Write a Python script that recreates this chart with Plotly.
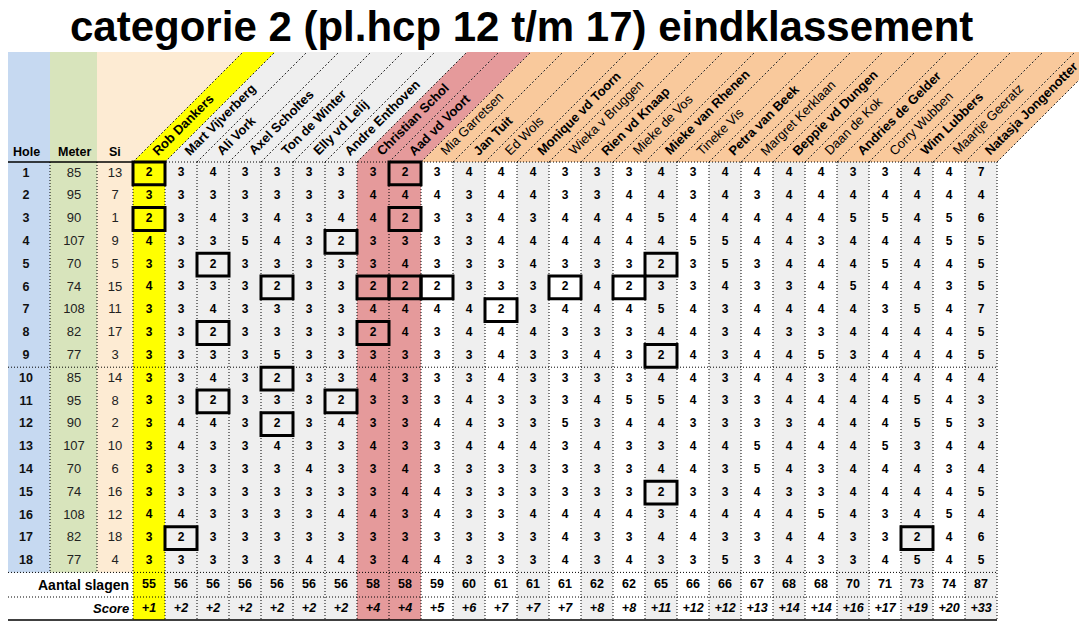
import plotly.graph_objects as go

# ---- data -------------------------------------------------------------
title = "categorie 2 (pl.hcp 12 t/m 17) eindklassement"

holes = [1, 2, 3, 4, 5, 6, 7, 8, 9, 10, 11, 12, 13, 14, 15, 16, 17, 18]
meters = [85, 95, 90, 107, 70, 74, 108, 82, 77, 85, 95, 90, 107, 70, 74, 108, 82, 77]
stroke_index = [13, 7, 1, 9, 5, 15, 11, 17, 3, 14, 8, 2, 10, 6, 16, 12, 18, 4]
par = [3, 3, 3, 3, 3, 3, 3, 3, 3, 3, 3, 3, 3, 3, 3, 3, 3, 3]

rob_dankers = [2, 3, 2, 4, 3, 4, 3, 3, 3, 3, 3, 3, 3, 3, 3, 4, 3, 3]
mart_vijverberg = [3, 3, 3, 3, 3, 3, 3, 3, 3, 3, 3, 4, 4, 3, 3, 4, 2, 3]
ali_vork = [4, 3, 4, 3, 2, 3, 4, 2, 3, 4, 2, 4, 3, 3, 3, 3, 3, 3]
axel_scholtes = [3, 3, 3, 5, 3, 3, 3, 3, 3, 3, 3, 3, 3, 3, 3, 3, 3, 3]
ton_de_winter = [3, 3, 4, 4, 3, 2, 3, 3, 5, 2, 3, 2, 4, 3, 3, 3, 3, 3]
elly_vd_lelij = [3, 3, 3, 3, 3, 3, 3, 3, 3, 3, 3, 3, 3, 4, 3, 3, 3, 4]
andre_enthoven = [3, 3, 4, 2, 3, 3, 3, 3, 3, 3, 2, 4, 3, 3, 3, 4, 3, 4]
christian_schol = [3, 4, 4, 3, 3, 2, 4, 2, 3, 4, 3, 3, 4, 3, 3, 4, 3, 3]
aad_vd_voort = [2, 4, 2, 3, 4, 2, 4, 4, 3, 3, 3, 3, 3, 4, 4, 3, 3, 4]
mia_garretsen = [3, 4, 3, 3, 3, 2, 4, 3, 3, 3, 3, 4, 3, 3, 4, 4, 3, 4]
jan_tuit = [4, 3, 3, 3, 3, 3, 4, 4, 3, 3, 4, 4, 4, 3, 3, 3, 3, 3]
ed_wols = [4, 4, 4, 4, 3, 3, 2, 4, 4, 4, 3, 3, 4, 3, 3, 3, 3, 3]
monique_vd_toorn = [4, 4, 3, 4, 4, 3, 3, 4, 3, 3, 3, 3, 4, 3, 3, 4, 3, 3]
wieka_v_bruggen = [3, 3, 4, 4, 3, 2, 4, 3, 3, 3, 3, 5, 3, 3, 3, 4, 4, 4]
rien_vd_knaap = [3, 3, 4, 4, 3, 4, 4, 3, 4, 3, 4, 3, 4, 3, 3, 4, 3, 3]
mieke_de_vos = [3, 4, 4, 4, 3, 2, 4, 3, 3, 3, 5, 4, 3, 3, 3, 4, 3, 4]
mieke_van_rhenen = [4, 4, 5, 4, 2, 3, 5, 4, 2, 4, 5, 4, 3, 4, 2, 3, 4, 3]
tineke_vis = [3, 3, 4, 5, 3, 3, 4, 4, 4, 4, 4, 3, 4, 4, 3, 4, 4, 3]
petra_van_beek = [4, 4, 4, 5, 5, 4, 3, 3, 3, 3, 3, 3, 4, 3, 3, 4, 3, 5]
margret_kerklaan = [4, 3, 4, 4, 3, 3, 4, 4, 4, 4, 3, 3, 5, 5, 4, 4, 3, 3]
beppie_vd_dungen = [4, 4, 4, 4, 4, 3, 4, 3, 4, 4, 4, 3, 4, 4, 3, 4, 4, 4]
daan_de_kok = [4, 4, 4, 3, 4, 4, 4, 3, 5, 3, 4, 4, 4, 3, 3, 5, 4, 3]
andries_de_gelder = [3, 4, 5, 4, 4, 5, 4, 4, 3, 4, 4, 4, 4, 4, 4, 4, 3, 3]
corry_wubben = [3, 4, 5, 4, 5, 4, 3, 4, 4, 4, 4, 4, 5, 4, 4, 3, 3, 4]
wim_lubbers = [4, 4, 4, 4, 4, 4, 5, 4, 4, 4, 5, 5, 3, 4, 4, 4, 2, 5]
maartje_geeratz = [4, 4, 5, 5, 4, 3, 4, 4, 4, 4, 4, 5, 4, 3, 4, 5, 4, 4]
natasja_jongenotter = [7, 4, 6, 5, 5, 5, 7, 5, 5, 4, 3, 3, 4, 4, 5, 4, 6, 5]

# (name, strokes, name in bold?)
players = [
    ("Rob Dankers", rob_dankers, True),
    ("Mart Vijverberg", mart_vijverberg, True),
    ("Ali Vork", ali_vork, True),
    ("Axel Scholtes", axel_scholtes, True),
    ("Ton de Winter", ton_de_winter, True),
    ("Elly vd Lelij", elly_vd_lelij, True),
    ("Andre Enthoven", andre_enthoven, True),
    ("Christian Schol", christian_schol, True),
    ("Aad vd Voort", aad_vd_voort, True),
    ("Mia Garretsen", mia_garretsen, False),
    ("Jan Tuit", jan_tuit, True),
    ("Ed Wols", ed_wols, False),
    ("Monique vd Toorn", monique_vd_toorn, True),
    ("Wieka v Bruggen", wieka_v_bruggen, False),
    ("Rien vd Knaap", rien_vd_knaap, True),
    ("Mieke de Vos", mieke_de_vos, False),
    ("Mieke van Rhenen", mieke_van_rhenen, True),
    ("Tineke Vis", tineke_vis, False),
    ("Petra van Beek", petra_van_beek, True),
    ("Margret Kerklaan", margret_kerklaan, False),
    ("Beppie vd Dungen", beppie_vd_dungen, True),
    ("Daan de Kok", daan_de_kok, False),
    ("Andries de Gelder", andries_de_gelder, True),
    ("Corry Wubben", corry_wubben, False),
    ("Wim Lubbers", wim_lubbers, True),
    ("Maartje Geeratz", maartje_geeratz, False),
    ("Natasja Jongenotter", natasja_jongenotter, True),
]

# ---- layout constants (pixels of the screenshot) ----------------------
# the page body keeps its 8px margin, so the figure is 8px smaller and the
# axis ranges start at 8 -> axis units equal screen pixels
PAD = 8
W, H = 1087, 622
FONT = "Liberation Sans, Arial, sans-serif"
YELLOW = "#ffff00"
GREY = "#efefef"
RED = "#e59a9b"
PEACH = "#f9c99c"
CREAM = "#fdebd3"

left_cols = [(2, 50, "#c6d9f1"), (50, 97, "#d8e4bc"), (97, 133, CREAM)]
col0, col_w = 133, 32
head_top, data_top, row_h = 52, 162, 22.8
slant = data_top - head_top  # 45 degree header
tot_top = data_top + 18 * row_h
tot_bot = tot_top + 24.6
score_bot = 620
right = col0 + col_w * len(players)


def row_mid(i):
    return data_top + (i + 0.5) * row_h


def band_colour(i):
    if i == 0:
        return YELLOW
    if i <= 6:
        return GREY
    if i <= 8:
        return RED
    return PEACH


def cell_colour(i):
    if i == 0:
        return YELLOW
    if i <= 6:
        return GREY
    if i <= 8:
        return RED
    return "white" if (i - 9) % 2 == 0 else GREY


shapes = []
annotations = []

# left columns (hole / meter / si)
for x0, x1, c in left_cols:
    top = head_top if x0 < 97 else data_top
    shapes.append(dict(type="rect", x0=x0, x1=x1, y0=top, y1=tot_top,
                       fillcolor=c, line_width=0, layer="below"))
# cream corner next to the slanted header
shapes.append(dict(type="path", path=f"M97,{head_top} L{col0 + slant},{head_top} L{col0},{data_top} L97,{data_top} Z",
                   fillcolor=CREAM, line_width=0, layer="below"))

# player columns + slanted header bands
for i, (name, strokes, bold) in enumerate(players):
    x0 = col0 + i * col_w
    x1 = x0 + col_w
    shapes.append(dict(type="rect", x0=x0, x1=x1, y0=data_top, y1=score_bot,
                       fillcolor=cell_colour(i), line_width=0, layer="below"))
    shapes.append(dict(type="path",
                       path=f"M{x0},{data_top} L{x1},{data_top} L{x1 + slant},{head_top} L{x0 + slant},{head_top} Z",
                       fillcolor=band_colour(i), line_width=0, layer="below"))
    label = f"<b>{name}</b>" if bold else name
    annotations.append(dict(x=x0 + col_w / 2 - 2, y=data_top - 1, text=label, textangle=-45,
                            xanchor="left", yanchor="bottom", showarrow=False,
                            font=dict(family=FONT, size=13, color="black")))

# dashed diagonal separators in header
for i in range(len(players) + 1):
    xb = col0 + i * col_w
    shapes.append(dict(type="line", x0=xb, y0=data_top, x1=xb + slant, y1=head_top,
                       line=dict(color="#222", width=1, dash="2px,2px")))

# grid lines
dot = dict(color="black", width=1, dash="1px,2px")
for xb in [50, 97]:
    shapes.append(dict(type="line", x0=xb, x1=xb, y0=data_top, y1=tot_top, line=dot))
for i in range(len(players) + 1):
    xb = col0 + i * col_w
    shapes.append(dict(type="line", x0=xb, x1=xb, y0=data_top, y1=score_bot, line=dot))
for yb in [data_top + 9 * row_h, tot_top, tot_bot]:
    shapes.append(dict(type="line", x0=2, x1=right, y0=yb, y1=yb, line=dot))
shapes.append(dict(type="line", x0=col0, x1=right, y0=data_top, y1=data_top, line=dot))
shapes.append(dict(type="line", x0=2, x1=col0, y0=data_top, y1=data_top, line=dict(color="black", width=1.5)))
shapes.append(dict(type="line", x0=2, x1=right, y0=score_bot, y1=score_bot, line=dict(color="black", width=1.5)))
shapes.append(dict(type="line", x0=2, x1=2, y0=tot_top, y1=score_bot, line=dict(color="black", width=1.5)))

# boxes around birdies (score below par)
for i, (name, strokes, bold) in enumerate(players):
    x0 = col0 + i * col_w
    for r, s in enumerate(strokes):
        if s < par[r]:
            shapes.append(dict(type="rect", x0=x0, x1=x0 + col_w,
                               y0=data_top + r * row_h, y1=data_top + (r + 1) * row_h,
                               line=dict(color="black", width=3)))

fig = go.Figure()

# hole numbers
fig.add_trace(go.Scatter(x=[26] * 18, y=[row_mid(r) for r in range(18)], text=[str(h) for h in holes],
                         mode="text", textfont=dict(family=FONT, size=12.5, color="#111", weight="bold")))
# meters & stroke index
fig.add_trace(go.Scatter(x=[74] * 18 + [115] * 18, y=[row_mid(r) for r in range(18)] * 2,
                         text=[str(m) for m in meters] + [str(s) for s in stroke_index],
                         mode="text", textfont=dict(family=FONT, size=13, color="#222")))

# strokes per player
xs, ys, ts = [], [], []
tx, tt, st = [], [], []
for i, (name, strokes, bold) in enumerate(players):
    cx = col0 + i * col_w + col_w / 2
    for r, s in enumerate(strokes):
        xs.append(cx)
        ys.append(row_mid(r))
        ts.append(str(s))
    total = sum(strokes)
    tx.append(cx)
    tt.append(str(total))
    st.append(f"+{total - sum(par)}")
fig.add_trace(go.Scatter(x=xs, y=ys, text=ts, mode="text",
                         textfont=dict(family=FONT, size=12, color="black", weight="bold")))
fig.add_trace(go.Scatter(x=tx, y=[(tot_top + tot_bot) / 2] * len(tx), text=tt, mode="text",
                         textfont=dict(family=FONT, size=12.5, color="black", weight="bold")))
fig.add_trace(go.Scatter(x=tx, y=[(tot_bot + score_bot) / 2] * len(tx), text=st, mode="text",
                         textfont=dict(family=FONT, size=12.5, color="black", weight="bold", style="italic")))

# header labels
for x, lab in [(26, "Hole"), (74, "Meter"), (115, "Si")]:
    annotations.append(dict(x=x, y=152, text=f"<b>{lab}</b>", showarrow=False,
                            font=dict(family=FONT, size=12.5, color="black")))
annotations.append(dict(x=131, y=(tot_top + tot_bot) / 2, text="<b>Aantal slagen</b>", xanchor="right",
                        showarrow=False, font=dict(family=FONT, size=14, color="black")))
annotations.append(dict(x=131, y=(tot_bot + score_bot) / 2, text="<b><i>Score</i></b>", xanchor="right",
                        showarrow=False, font=dict(family=FONT, size=13, color="black")))
annotations.append(dict(x=521, y=26, text=f"<b>{title}</b>", showarrow=False,
                        font=dict(family=FONT, size=42, color="black")))

fig.update_layout(
    width=W - PAD, height=H - PAD, autosize=False,
    margin=dict(l=0, r=0, t=0, b=0, pad=0),
    paper_bgcolor="white", plot_bgcolor="white",
    showlegend=False,
    xaxis=dict(range=[PAD, W], visible=False, fixedrange=True),
    yaxis=dict(range=[H, PAD], visible=False, fixedrange=True),
    shapes=shapes,
    annotations=annotations,
)
fig.update_traces(hoverinfo="skip", cliponaxis=False)

fig.write_html("out.html", config={"displayModeBar": False})
